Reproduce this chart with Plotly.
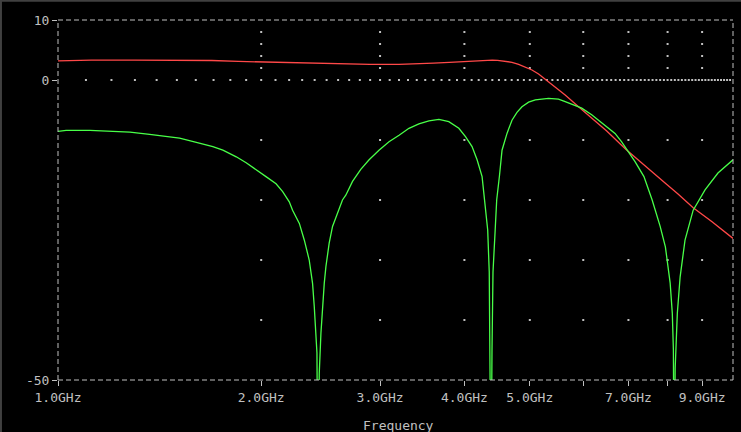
import plotly.graph_objects as go

# trace data (frequency in GHz, level in dB)
red_freq = [1.0, 1.12, 1.3, 1.5, 1.69, 1.85, 2.1, 2.4, 2.6, 2.9, 3.2, 3.45,
            3.6, 3.8, 4.0, 4.2, 4.4, 4.48, 4.6, 4.705, 4.813, 4.924, 5.037,
            5.152, 5.272, 5.453, 5.641, 5.904, 6.11, 6.5, 6.93, 7.5, 7.94,
            8.29, 8.73, 9.3, 10.0]
red_db = [3.2, 3.3, 3.3, 3.3, 3.25, 3.1, 2.95, 2.8, 2.65, 2.6, 2.6, 2.65,
          2.8, 2.95, 3.1, 3.25, 3.3, 3.28, 3.1, 2.95, 2.6, 2.2, 1.67,
          1.0, 0.1, -1.2, -2.5, -4.45, -5.9, -8.5, -11.5, -14.9, -17.2,
          -19.0, -21.3, -23.6, -26.4]

green_freq = [1.0, 1.028, 1.115, 1.2, 1.278, 1.367, 1.449, 1.514, 1.603, 1.696,
              1.755, 1.837, 1.9, 1.966, 2.033, 2.104, 2.152, 2.201, 2.226,
              2.278, 2.317, 2.356, 2.383, 2.397, 2.411, 2.419, 2.427, 2.438,
              2.452, 2.466, 2.48, 2.494, 2.522, 2.551, 2.594, 2.639, 2.669,
              2.731, 2.809, 2.89, 2.989, 3.093, 3.201, 3.311, 3.425, 3.544,
              3.667, 3.793, 3.925, 4.015, 4.106, 4.177, 4.249, 4.287, 4.331,
              4.354, 4.368, 4.38, 4.395, 4.41, 4.443, 4.466, 4.508, 4.548,
              4.626, 4.705, 4.786, 4.868, 4.98, 5.095, 5.33, 5.514, 5.641,
              5.837, 5.969, 6.175, 6.317, 6.536, 6.687, 6.84, 6.998, 7.159,
              7.38, 7.59, 7.8, 7.94, 8.07, 8.13, 8.16, 8.18, 8.21, 8.27,
              8.35, 8.49, 8.73, 9.09, 9.5, 10.0]
green_db = [-8.55, -8.4, -8.4, -8.5, -8.7, -9.05, -9.4, -9.7, -10.4, -11.1,
            -11.7, -12.8, -13.8, -14.9, -16.1, -17.3, -18.6, -20.3, -21.7,
            -23.9, -26.7, -30.0, -33.9, -37.8, -42.2, -45.5, -70.0, -48.9,
            -42.2, -37.2, -33.9, -31.1, -27.2, -24.4, -22.2, -20.0, -19.2,
            -16.9, -14.9, -13.3, -11.7, -10.3, -9.2, -8.05, -7.3, -6.8,
            -6.55, -6.95, -8.05, -9.45, -11.1, -13.3, -16.1, -20.0, -25.0,
            -32.0, -45.0, -70.0, -45.0, -32.0, -25.0, -20.0, -16.0, -11.7,
            -8.9, -6.7, -5.4, -4.45, -3.7, -3.3, -3.05, -3.2, -3.6,
            -4.3, -4.7, -5.8, -6.7, -8.05, -8.9, -10.3, -11.95, -13.6,
            -16.1, -20.0, -24.4, -27.8, -33.8, -38.9, -45.0, -70.0, -48.0, -38.9,
            -32.8, -26.7, -21.7, -18.3, -15.5, -13.3]

x_tick_vals = [1, 2, 3, 4, 5, 6, 7, 8, 9]
x_tick_text = ["1.0GHz", "2.0GHz", "3.0GHz", "4.0GHz", "5.0GHz", "", "7.0GHz", "", "9.0GHz"]
y_tick_vals = [10, 0, -50]
y_tick_text = ["10", "0", "-50"]

grey = "#c0c0c0"
font = dict(family="DejaVu Sans Mono", size=13, color=grey)

# dotted grid the way the probe window draws it
grid_rows = [8, 6, 4, 2, -10, -20, -30, -40]
gx, gy = [], []
for f in x_tick_vals[1:]:
    for r in grid_rows:
        gx.append(f)
        gy.append(r)
for i in range(11, 100):
    gx.append(i / 10)
    gy.append(0)

fig = go.Figure()
fig.add_trace(go.Scatter(x=gx, y=gy, mode="markers", hoverinfo="skip",
                         marker=dict(symbol="square", size=2, color=grey, line_width=0)))
fig.add_trace(go.Scatter(x=red_freq, y=red_db, mode="lines", hoverinfo="skip",
                         line=dict(color="#ff4848", width=1.3)))
fig.add_trace(go.Scatter(x=green_freq, y=green_db, mode="lines", hoverinfo="skip",
                         line=dict(color="#48ff48", width=1.3)))

# dashed frame round the plot area
frame = dict(color=grey, width=1, dash="5px,3px")
for x0, y0, x1, y1 in [(0, 0, 1, 0), (0, 1, 1, 1), (0, 0, 0, 1), (1, 0, 1, 1)]:
    fig.add_shape(type="line", xref="paper", yref="paper",
                  x0=x0, y0=y0, x1=x1, y1=y1, line=frame)
# window edge
fig.add_shape(type="line", xref="paper", yref="paper", x0=-0.0875, x1=1.02,
              y0=1.0535, y1=1.0535, line=dict(color="#404040", width=2))
fig.add_shape(type="line", xref="paper", yref="paper", x0=-0.0845, x1=-0.0845,
              y0=-0.16, y1=1.06, line=dict(color="#404040", width=2))

fig.add_annotation(text="Frequency", xref="paper", yref="paper", x=0.504, y=-0.125,
                   showarrow=False, font=font, yanchor="middle")

fig.update_layout(
    width=741, height=432,
    paper_bgcolor="black", plot_bgcolor="black",
    margin=dict(l=58, r=8, t=20, b=52),
    showlegend=False,
    font=font,
    xaxis=dict(type="log", range=[0, 1], tickvals=x_tick_vals, ticktext=x_tick_text,
               showgrid=False, zeroline=False, showline=False,
               ticks="outside", ticklen=5, tickcolor=grey, tickfont=font),
    yaxis=dict(range=[-50, 10], tickvals=y_tick_vals, ticktext=y_tick_text,
               showgrid=False, zeroline=False, showline=False,
               ticks="outside", ticklen=5, tickcolor=grey, tickfont=font),
)

fig.write_html("out.html", config={"displayModeBar": False},
               post_script="document.body.style.margin='0';")
